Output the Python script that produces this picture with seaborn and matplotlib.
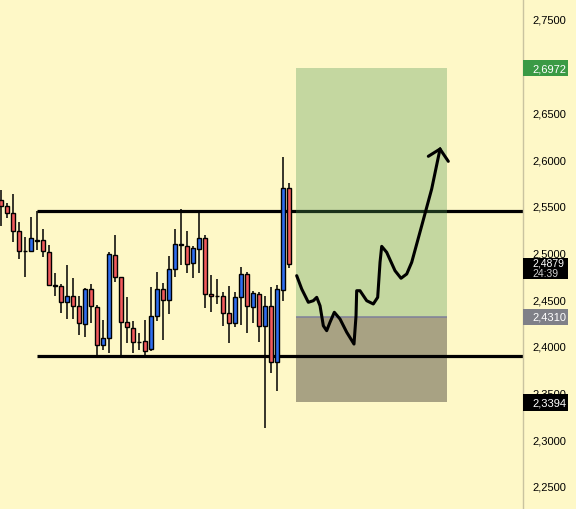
import numpy as np
import pandas as pd
import matplotlib
matplotlib.use('Agg')
import matplotlib.pyplot as plt
import matplotlib.transforms as mtransforms
from matplotlib.patches import Rectangle
import seaborn as sns

# ローソク足データ (読み取り値)
opens = [2.5561, 2.5494, 2.5422, 2.5226, 2.5014, 2.5018, 2.5125, 2.5130, 2.5001, 2.4654,
         2.4643, 2.4466, 2.4530, 2.4423, 2.4230, 2.4608, 2.4412, 2.4009, 2.4080, 2.4972,
         2.4733, 2.4252, 2.4187, 2.4040, 2.4048, 2.3966, 2.4322, 2.4608, 2.4494, 2.4819,
         2.5084, 2.5072, 2.4883, 2.5036, 2.5151, 2.4551, 2.4535, 2.4530, 2.4348, 2.4241,
         2.4519, 2.4766, 2.4412, 2.4551, 2.4209, 2.4423, 2.3823, 2.4594, 2.5686]
closes = [2.5494, 2.5419, 2.5226, 2.5012, 2.5010, 2.5151, 2.5136, 2.5012, 2.4654, 2.4643,
          2.4466, 2.4530, 2.4423, 2.4241, 2.4608, 2.4423, 2.4009, 2.4080, 2.4983, 2.4733,
          2.4252, 2.4198, 2.4037, 2.4036, 2.3948, 2.4322, 2.4608, 2.4494, 2.4819, 2.5090,
          2.5080, 2.4876, 2.5047, 2.5151, 2.4551, 2.4530, 2.4531, 2.4348, 2.4244, 2.4519,
          2.4766, 2.4423, 2.4562, 2.4209, 2.4423, 2.3823, 2.4605, 2.5686, 2.4879]
highs = [2.5668, 2.5529, 2.5625, 2.5322, 2.5162, 2.5376, 2.5446, 2.5251, 2.5079, 2.4779,
         2.4662, 2.4865, 2.4726, 2.4530, 2.4619, 2.4662, 2.4437, 2.4276, 2.5001, 2.5186,
         2.4738, 2.4519, 2.4262, 2.4137, 2.4276, 2.4626, 2.4793, 2.4672, 2.4965, 2.5251,
         2.5465, 2.5226, 2.5072, 2.5446, 2.5186, 2.4758, 2.4715, 2.4573, 2.4643, 2.4573,
         2.4844, 2.4790, 2.4590, 2.4573, 2.4536, 2.4633, 2.4651, 2.6018, 2.5743]
lows = [2.5286, 2.5372, 2.5108, 2.4929, 2.4740, 2.5001, 2.5026, 2.4954, 2.4637, 2.4536,
        2.4351, 2.4287, 2.4287, 2.4119, 2.4091, 2.4241, 2.3894, 2.3958, 2.3923, 2.4686,
        2.3894, 2.4027, 2.3923, 2.3958, 2.3894, 2.3948, 2.4269, 2.4065, 2.4340, 2.4733,
        2.4868, 2.4779, 2.4726, 2.4776, 2.4408, 2.4365, 2.4448, 2.4209, 2.4027, 2.4198,
        2.4226, 2.4134, 2.4241, 2.4044, 2.3117, 2.3706, 2.3519, 2.4483, 2.4830]

# 水平線 (レジスタンス / サポート)
resistance = 2.5446
support = 2.3894
line_start = 6

# ポジション (利確 / エントリー / 損切り)
take_profit = 2.6972
entry = 2.4310
stop_loss = 2.3394
last_price = 2.4879
countdown = '24:39'
box_start, box_end = 49.2, 74.3

# 予想ルート (手書きの矢印)
path_x = [49.28, 50.12, 51.22, 52.05, 52.62, 53.17, 53.72, 54.28, 54.83, 55.55,
          56.5, 57.62, 58.83, 59.17, 59.28, 59.83, 60.95, 62.05, 62.78, 63.17,
          63.45, 64.28, 65.67, 66.67, 67.62, 68.45, 70.12, 71.78, 73.17]
path_y = [2.4751, 2.4608, 2.4466, 2.4483, 2.4519, 2.4429, 2.4215, 2.4162, 2.4252, 2.4359,
          2.4287, 2.4145, 2.4019, 2.4322, 2.4590, 2.4590, 2.4483, 2.4448, 2.4519, 2.4894,
          2.5065, 2.5001, 2.4804, 2.4723, 2.4769, 2.4894, 2.5286, 2.5679, 2.6107]
head_x = [71.22, 73.17, 74.55]
head_y = [2.6029, 2.6107, 2.5975]

# 2,7000 は利確ラベルに隠れているので省く
y_ticks = [2.25, 2.30, 2.35, 2.40, 2.45, 2.50, 2.55, 2.60, 2.65, 2.75]

BG = '#fef8c7'
UP = '#2f6ef0'
DOWN = '#f25a5c'

sns.set_theme(style='white', rc={'axes.facecolor': BG, 'figure.facecolor': BG})
plt.rcParams['font.family'] = ['Liberation Sans', 'DejaVu Sans']

df = pd.DataFrame({'open': opens, 'high': highs, 'low': lows, 'close': closes})
df['x'] = np.arange(len(df))

fig = plt.figure(figsize=(5.76, 5.10), dpi=100)
ax = fig.add_axes([0, 0, 523 / 576, 1])

# ヒゲ
ax.vlines(df['x'], df['low'], df['high'], color='black', lw=1.1, zorder=4)
# 実体
body_bottom = df[['open', 'close']].min(axis=1)
body_height = (df['close'] - df['open']).abs().clip(lower=0.0007)
colors = [UP if c > o else DOWN for o, c in zip(opens, closes)]
ax.bar(df['x'], body_height, bottom=body_bottom, width=0.7, color=colors,
       edgecolor='black', linewidth=1.0, zorder=5)

# 水平線
ax.hlines([resistance, support], line_start, 200, color='black', lw=2.3, zorder=2)

# 利確ゾーン / 損切りゾーン
ax.add_patch(Rectangle((box_start, entry), box_end - box_start, take_profit - entry,
                       facecolor='#509652', alpha=0.33, edgecolor='none', zorder=3))
ax.add_patch(Rectangle((box_start, stop_loss), box_end - box_start, entry - stop_loss,
                       facecolor='#a8a283', edgecolor='none', zorder=1))
ax.hlines(entry, box_start, box_end, color='#7e809a', lw=1.1, zorder=3.5)

# 矢印
sns.lineplot(x=path_x, y=path_y, sort=False, estimator=None, color='black',
             lw=2.2, ax=ax, zorder=6, solid_capstyle='round', solid_joinstyle='round')
ax.plot(head_x, head_y, color='black', lw=2.2, zorder=6,
        solid_capstyle='round', solid_joinstyle='miter')

ax.set_xlim(-0.17, 87)
ax.set_ylim(2.2253, 2.7713)

# 右側の価格軸
ax.yaxis.tick_right()
ax.set_yticks(y_ticks)
ax.set_yticklabels([f'{v:.4f}'.replace('.', ',') for v in y_ticks])
ax.tick_params(axis='y', length=0, pad=6.5, labelsize=8, labelcolor='black')
ax.set_xticks([])
for side in ['top', 'left', 'bottom']:
    ax.spines[side].set_visible(False)
ax.spines['right'].set_color('#c9c3a0')
ax.spines['right'].set_linewidth(1)

# 価格ラベル
trans = mtransforms.blended_transform_factory(ax.transAxes, ax.transData)
bw = 45 / 523
tx = 1.0 + 9 / 523


def badge(price, text, fc, tc='white', half=0.0088):
    ax.add_patch(Rectangle((1.0, price - half), bw, 2 * half, transform=trans,
                           facecolor=fc, edgecolor='none', clip_on=False, zorder=10))
    ax.text(tx, price, text, transform=trans, color=tc, fontsize=8,
            va='center', ha='left', clip_on=False, zorder=11)


badge(take_profit, '2,6972', '#3a9a45')
badge(entry, '2,4310', '#7f8088')
badge(stop_loss, '2,3394', 'black')

# 現在値 + 残り時間
ax.add_patch(Rectangle((1.0, last_price - 0.0160), bw, 0.0225, transform=trans,
                       facecolor='black', edgecolor='none', clip_on=False, zorder=10))
ax.text(tx, last_price + 0.0010, '2,4879', transform=trans, color='white',
        fontsize=7.5, va='center', ha='left', clip_on=False, zorder=11)
ax.text(tx, last_price - 0.0104, countdown, transform=trans,
        color='#cfcfcf', fontsize=7.5, va='center', ha='left', clip_on=False, zorder=11)

plt.savefig('out.png', dpi=100, facecolor=BG)
